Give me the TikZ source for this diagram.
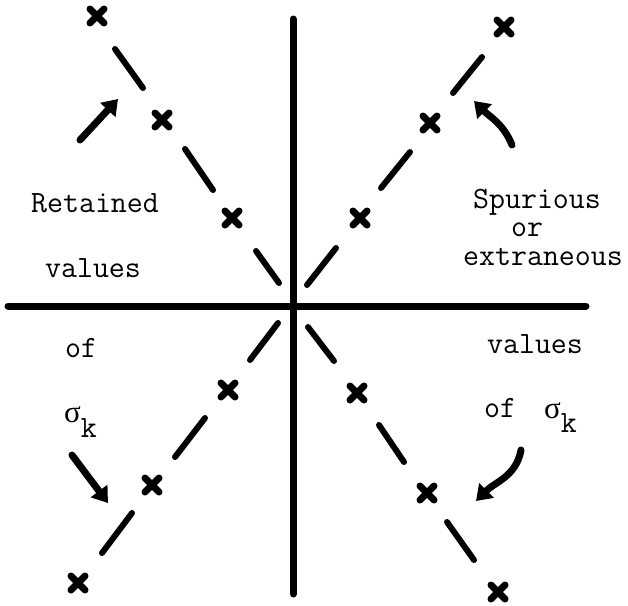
\documentclass[tikz,border=0pt]{standalone}
\usepackage{fontspec}
\newfontfamily\grk{Liberation Serif}
\usetikzlibrary{arrows.meta}
\begin{document}
\begin{tikzpicture}[x=1pt,y=-1pt,
  axis/.style={line width=7pt,line cap=round},
  dashseg/.style={line width=6pt,line cap=round},
  ptr/.style={line width=7pt,line cap=round,-{Triangle[length=15pt,width=20pt]}},
  lbl/.style={font=\ttfamily\fontsize{31}{31}\selectfont\addfontfeatures{FakeBold=1.1},inner sep=0pt,anchor=base},
  xmark/.pic={\draw[line width=7pt,line cap=round] (-7,-7)--(7,7) (-7,7)--(7,-7);}]
\useasboundingbox (0,0) rectangle (628,605);
% axes
\coordinate (vt) at (293,19); \coordinate (vb) at (293,594);
\coordinate (hl) at (8,306);  \coordinate (hr) at (586,306);
\draw[axis] (vt) -- (vb);
\draw[axis] (hl) -- (hr);
% crosses
\foreach \n/\p in {ul1/{97,16},ul2/{162,120},ul3/{232,218},
                   ur1/{504,27},ur2/{430,123},ur3/{360,218},
                   ll1/{228,390},ll2/{152,485},ll3/{78,583},
                   lr1/{357,393},lr2/{427,493},lr3/{498,592}}
  {\coordinate (\n) at (\p); \pic at (\n) {xmark};}
% dashes
\foreach \a/\b/\c/\d in {
   115/49/143/88, 185/149/213/190, 256/251/279/283,
   482/57/453/93, 410/152/381/188, 336/248/307/285,
   278/323/250/360, 205/418/175/457, 132/513/102/553,
   308/327/334/361, 379/425/404/462, 447/522/474/560}
  {\coordinate (s) at (\a,\b); \coordinate (e) at (\c,\d); \draw[dashseg] (s) -- (e);}
% arrows
\coordinate (a1s) at (80,140);  \coordinate (a1e) at (118,99);
\coordinate (a2s) at (72,455);  \coordinate (a2e) at (108,503);
\coordinate (a3s) at (512,145); \coordinate (a3e) at (474,101);
\coordinate (a4s) at (521,450); \coordinate (a4e) at (476,501);
\draw[ptr] (a1s) -- (a1e);
\draw[ptr] (a2s) -- (a2e);
\draw[ptr] (a3s) to[out=112,in=-45] (a3e);
\draw[ptr] (a4s) to[out=-100,in=45] (a4e);
% labels
\node[lbl] (ret) at (95,212) {Retained};
\node[lbl] (val1) at (93,277) {values};
\node[lbl] (spu) at (537,208) {Spurious};
\node[lbl] (or) at (527,236) {or};
\node[lbl] (ext) at (543,265) {extraneous};
\node[lbl] (of1) at (81,357) {of};
\node[lbl,anchor=base west] (sig1) at (64,422) {{\grk σ}\raisebox{-15pt}{k}};
\node[lbl] (val2) at (535,353) {values};
\node[lbl] (of2) at (500,417) {of};
\node[lbl,anchor=base west] (sig2) at (544,418) {{\grk σ}\raisebox{-14pt}{k}};
\end{tikzpicture}
\end{document}
